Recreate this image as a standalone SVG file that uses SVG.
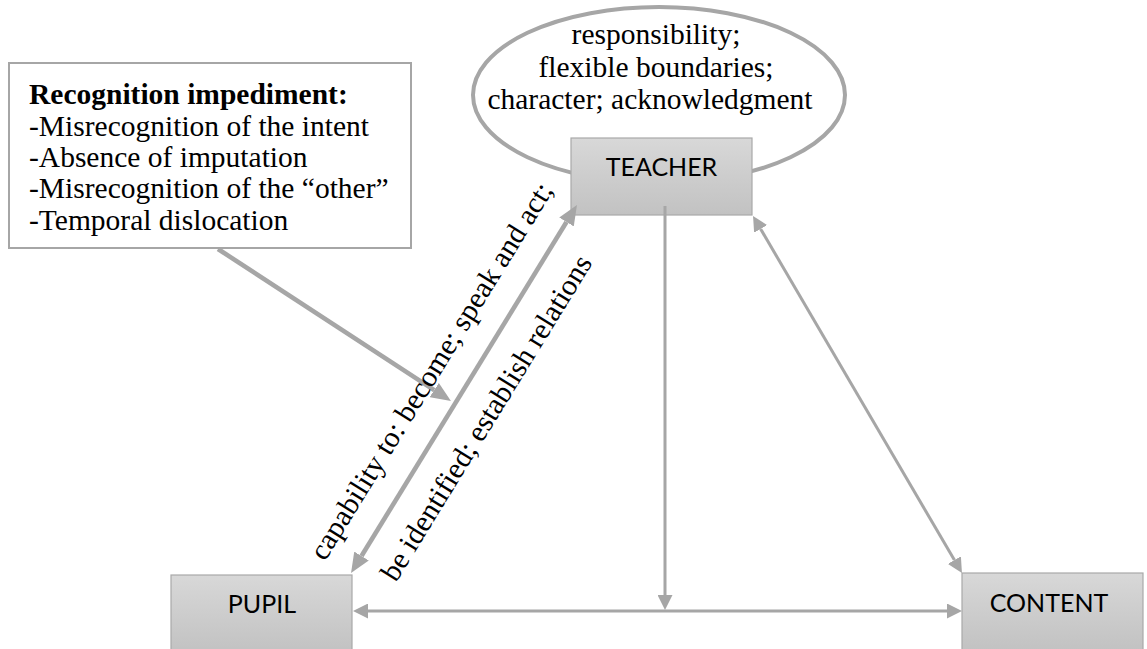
<svg xmlns="http://www.w3.org/2000/svg" width="1147" height="649" viewBox="0 0 1147 649">
  <style>
    .serif { font-family: "Liberation Serif", "Times New Roman", serif; font-size: 29.5px; fill: #000; }
    .label { font-family: Lato, "Open Sans", sans-serif; font-size: 25px; fill: #000; text-anchor: middle; }
    .node { fill: url(#boxFill); stroke: #a9a9a9; stroke-width: 1.2; }
    .thin { fill: none; stroke: #a6a6a6; stroke-width: 3; }
    .thick { fill: none; stroke: #a6a6a6; stroke-width: 4.6; }
  </style>
  <defs>
    <linearGradient id="boxFill" x1="0" y1="0" x2="0" y2="1">
      <stop offset="0" stop-color="#d8d8d8"/>
      <stop offset="1" stop-color="#c2c2c2"/>
    </linearGradient>
    <marker id="headThin" markerUnits="userSpaceOnUse" markerWidth="15" markerHeight="15" refX="0" refY="7.5" orient="auto-start-reverse">
      <path d="M0,0 L15,7.5 L0,15 Z" fill="#a6a6a6"/>
    </marker>
    <marker id="headThick" markerUnits="userSpaceOnUse" markerWidth="20" markerHeight="17" refX="0" refY="8.5" orient="auto-start-reverse">
      <path d="M0,0 L20,8.5 L0,17 Z" fill="#a6a6a6"/>
    </marker>
  </defs>

  <rect width="1147" height="649" fill="#fff"/>

  <!-- qualities surrounding the teacher -->
  <g id="teacher-qualities">
    <ellipse cx="659" cy="95" rx="186" ry="88" fill="#fff" stroke="#a6a6a6" stroke-width="4"/>
    <text class="serif" text-anchor="middle" x="656" y="44">responsibility;</text>
    <text class="serif" text-anchor="middle" x="656" y="77">flexible boundaries;</text>
    <text class="serif" text-anchor="middle" x="650" y="109">character; acknowledgment</text>
  </g>

  <!-- impediment list -->
  <g id="impediment">
    <rect x="9" y="63" width="402" height="185" fill="#fff" stroke="#a6a6a6" stroke-width="2"/>
    <text class="serif" x="29" y="104" font-weight="bold">Recognition impediment:</text>
    <text class="serif" x="29" y="136">-Misrecognition of the intent</text>
    <text class="serif" x="29" y="167">-Absence of imputation</text>
    <text class="serif" x="29" y="198">-Misrecognition of the “other”</text>
    <text class="serif" x="29" y="230">-Temporal dislocation</text>
  </g>

  <g id="teacher">
    <rect class="node" x="571" y="138" width="181" height="77"/>
    <text class="label" x="661.5" y="176">TEACHER</text>
  </g>

  <g id="pupil">
    <rect class="node" x="171" y="575" width="181" height="77"/>
    <text class="label" x="262" y="613">PUPIL</text>
  </g>

  <g id="content">
    <rect class="node" x="962" y="573" width="181" height="77"/>
    <text class="label" x="1049" y="612">CONTENT</text>
  </g>

  <g id="connectors">
    <!-- pupil <-> content -->
    <path class="thin" d="M368,611 L947,611" marker-start="url(#headThin)" marker-end="url(#headThin)"/>
    <!-- teacher -> pupil/content relation -->
    <path class="thin" d="M665,206 L665,595" marker-end="url(#headThin)"/>
    <!-- teacher <-> content -->
    <path class="thin" d="M760.6,228.9 L954.4,560.1" marker-start="url(#headThin)" marker-end="url(#headThin)"/>
    <!-- pupil <-> teacher -->
    <path class="thick" d="M361.5,556 L566.5,222" marker-start="url(#headThick)" marker-end="url(#headThick)"/>
    <!-- impediment acting on the pupil-teacher relation -->
    <path class="thick" d="M218,249 L434.2,390.1" marker-end="url(#headThick)"/>
  </g>

  <g id="relation-labels">
    <text class="serif" transform="translate(325,562) rotate(-58.4)">capability to: become; speak and act;</text>
    <text class="serif" transform="translate(396,583) rotate(-58.4)">be identified; establish relations</text>
  </g>
</svg>
